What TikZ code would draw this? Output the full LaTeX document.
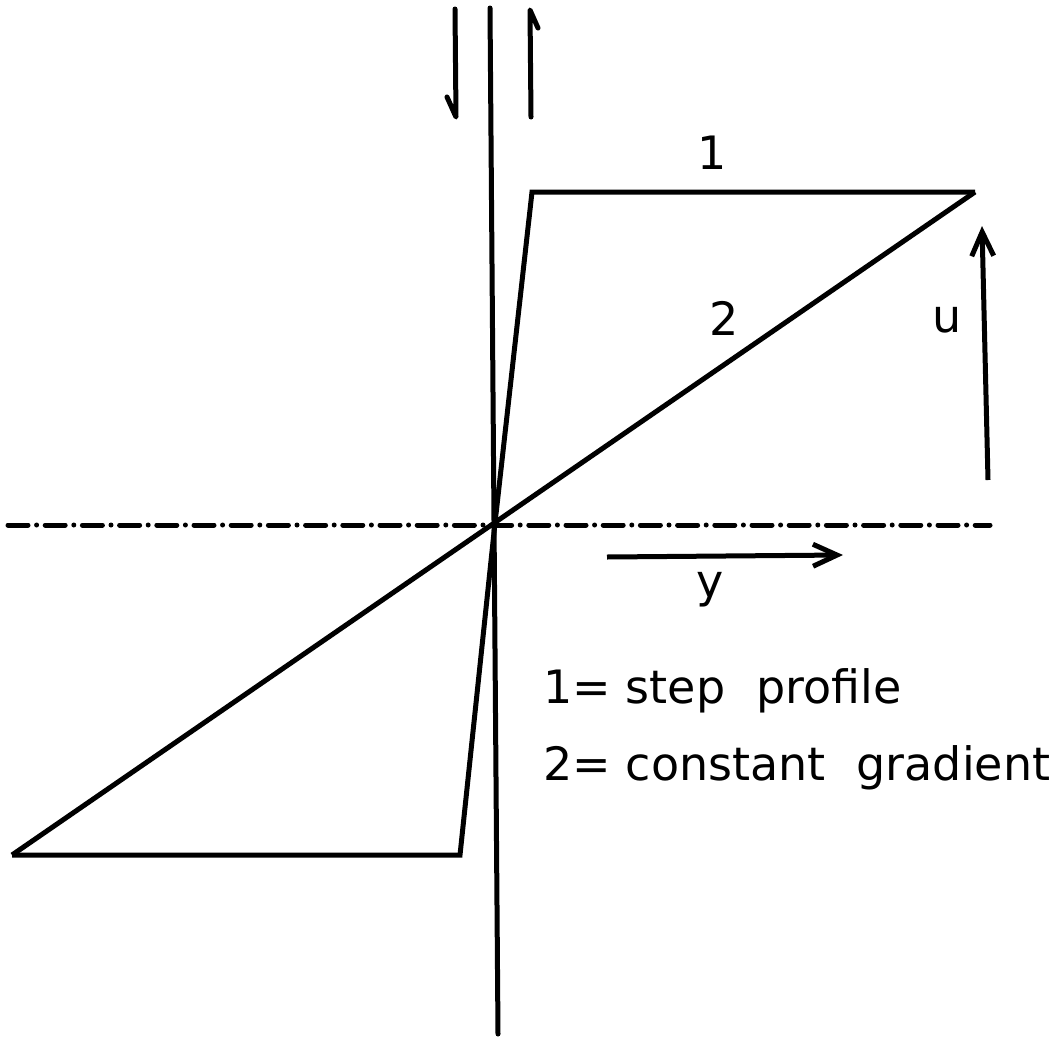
\documentclass[tikz,border=0pt]{standalone}
\usepackage{fontspec}
\setmainfont{DejaVu Sans}
\usetikzlibrary{arrows.meta}
\tikzset{
  ln/.style={line width=2.5pt, line join=miter},
  halfarr/.style={line width=2.5pt, line join=round, line cap=round},
  arr/.style={ln, -{Straight Barb[length=12pt, width=11pt, line width=2.5pt]}},
  dashdot/.style={line width=2.5pt, line cap=round, dash pattern=on 10pt off 4.3pt on 0pt off 4.3pt},
  lbl/.style={inner sep=0pt, font=\fontsize{23}{27}\selectfont},
}
\begin{document}
\begin{tikzpicture}[x=0.5pt, y=-0.5pt]
\useasboundingbox (0,0) rectangle (1061,1039);
% axes
\coordinate (vtop) at (490,8);
\coordinate (vbot) at (498,1034);
\coordinate (hl) at (8,525);
\coordinate (hr) at (990,525);
\draw[ln, line cap=round] (vtop) -- (vbot);
\draw[dashdot] (hl) -- (hr);
% profiles
\coordinate (s1) at (975,192);
\coordinate (s2) at (532,192);
\coordinate (o) at (495,523);
\coordinate (s3) at (460,855);
\coordinate (s4) at (12,855);
\draw[ln] (s1) -- (s2) -- (o) -- (s3) -- (s4);
\draw[ln] (s1) -- (s4);
% top half arrows
\coordinate (a1t) at (455,9);
\coordinate (a1b) at (456,117);
\coordinate (a1w) at (447,97);
\draw[halfarr] (a1t) -- (a1b) -- (a1w);
\coordinate (a2b) at (531,117);
\coordinate (a2t) at (530,10);
\coordinate (a2w) at (538,28);
\draw[halfarr] (a2b) -- (a2t) -- (a2w);
% u arrow
\coordinate (ub) at (988,480);
\coordinate (ut) at (982,226);
\draw[arr] (ub) -- (ut);
% y arrow
\coordinate (yl) at (607,557);
\coordinate (yr) at (843,555);
\draw[arr] (yl) -- (yr);
% labels
\node[lbl] (l1) at (712,153) {1};
\node[lbl] (l2) at (724,318) {2};
\node[lbl] (lu) at (947,320) {u};
\node[lbl] (ly) at (710,590) {y};
\node[lbl, anchor=base west] (leg1) at (543,703) {1= step\hspace{0.35em} profile};
\node[lbl, anchor=base west] (leg2) at (543,780) {2= constant\hspace{0.35em} gradient};
\end{tikzpicture}
\end{document}
